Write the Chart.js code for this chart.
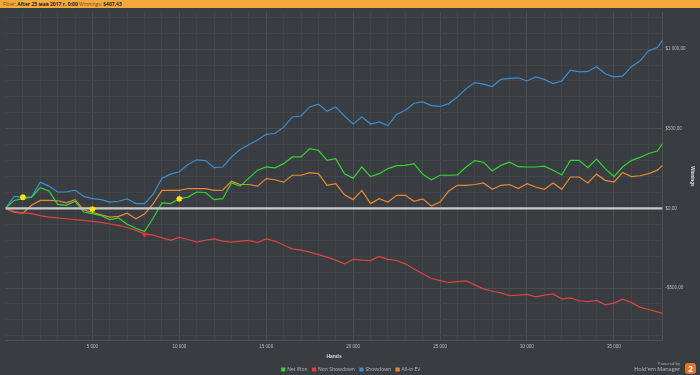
<!DOCTYPE html>
<html>
<head>
<meta charset="utf-8">
<script src="https://cdn.jsdelivr.net/npm/chart.js@4.4.1/dist/chart.umd.min.js"></script>
<style>
  html, body { margin: 0; padding: 0; background: #393c40; }
  #wrap { position: relative; width: 700px; height: 375px; overflow: hidden; font-family: "Open Sans", sans-serif; }
  #filter { position: absolute; left: 0; top: 0; width: 700px; height: 8px; background: #f4a93e; font-size: 5px; line-height: 8px; color: #6b4a1a; padding-left: 3px; box-sizing: border-box; z-index: 2; }
  #filter b { color: #1e1e1e; }
  #brand { position: absolute; right: 20px; top: 361px; text-align: right; color: #b8bcc2; z-index: 2; }
  #brand .small { font-size: 4px; line-height: 5px; }
  #brand .big { font-size: 5.5px; line-height: 7px; }
  #logo { position: absolute; right: 4px; top: 363px; width: 11px; height: 11px; border-radius: 3px; background: #e8742a; color: #fff; font-size: 8px; font-weight: bold; line-height: 11px; text-align: center; z-index: 2; }
  canvas { position: absolute; left: 0; top: 0; }
</style>
</head>
<body>
<div id="wrap">
  <div id="filter">Filter: <b>After 25 мая 2017 г. 0:00</b> Winnings: <b>$407,43</b></div>
  <canvas id="graph" width="700" height="382"></canvas>
  <div id="brand"><div class="small">Powered by</div><div class="big">Hold'em Manager</div></div>
  <div id="logo">2</div>
</div>
<script>
// раздачи (ось X)
const hands = [0, 500, 1000, 1500, 2000, 2500, 3000, 3500, 4000, 4500, 5000, 5500, 6000, 6500, 7000, 7500,
  8000, 8500, 9000, 9500, 10000, 10500, 11000, 11500, 12000, 12500, 13000, 13500, 14000, 14500, 15000, 15500,
  16000, 16500, 17000, 17500, 18000, 18500, 19000, 19500, 20000, 20500, 21000, 21500, 22000, 22500, 23000, 23500,
  24000, 24500, 25000, 25500, 26000, 26500, 27000, 27500, 28000, 28500, 29000, 29500, 30000, 30500, 31000, 31500,
  32000, 32500, 33000, 33500, 34000, 34500, 35000, 35500, 36000, 36500, 37000, 37500, 37800];

const netWon = [0, 50, 61, 70, 130, 110, 25, 19, 45, -23, -33, -45, -70, -60, -100, -125,
  -145, -60, 35, 30, 60, 71, 103, 100, 55, 61, 160, 140, 190, 240, 260, 255,
  281, 323, 323, 375, 365, 302, 312, 218, 190, 260, 200, 218, 250, 268, 270, 281,
  215, 180, 208, 208, 210, 260, 300, 290, 235, 270, 290, 262, 260, 260, 265, 240,
  210, 302, 302, 255, 310, 250, 200, 260, 300, 320, 345, 360, 407];

const nonShowdown = [0, -20, -28, -33, -45, -55, -60, -65, -70, -75, -82, -88, -98, -107, -120, -138,
  -160, -168, -185, -201, -182, -195, -212, -200, -192, -205, -212, -205, -201, -215, -192, -205,
  -230, -254, -262, -275, -290, -306, -325, -348, -320, -325, -328, -302, -320, -327, -348, -380,
  -410, -440, -453, -465, -460, -455, -480, -505, -520, -530, -547, -545, -540, -555, -545, -537,
  -568, -562, -580, -585, -578, -605, -595, -570, -590, -620, -635, -650, -659];

const showdown = [0, 75, 71, 71, 165, 140, 103, 103, 115, 75, 61, 55, 40, 45, 60, 30,
  30, 90, 190, 215, 230, 275, 305, 300, 256, 260, 323, 370, 400, 430, 465, 470,
  510, 574, 580, 637, 655, 610, 637, 580, 530, 575, 530, 543, 520, 590, 616, 660,
  669, 645, 640, 658, 700, 752, 790, 780, 765, 810, 816, 820, 800, 825, 810, 784,
  800, 868, 857, 860, 889, 845, 826, 830, 890, 925, 990, 1010, 1057];

const allInEV = [0, -23, -30, 20, 50, 50, 48, 35, 55, -10, -25, -40, -55, -50, -30, -65,
  -35, 30, 113, 113, 113, 125, 124, 124, 113, 115, 170, 150, 150, 140, 187, 180,
  165, 208, 208, 225, 218, 145, 155, 85, 55, 113, 30, 61, 40, 82, 82, 45,
  60, 15, 40, 110, 145, 145, 150, 160, 120, 145, 150, 124, 155, 134, 120, 160,
  120, 197, 197, 160, 215, 176, 165, 225, 200, 205, 218, 240, 270];

// отметки на графике
const starHands = [1000, 5000, 10000];
const starValues = [70, -5, 60];
const lowHands = [8000];
const lowValues = [-165];

// деления осей (сетка каждые 1000 раздач / $100, подписи каждые 5000 / $500)
const xTicks = [];
for (let h = 1000; h <= 37000; h += 1000) xTicks.push(h);
const yTicks = [];
for (let v = -800; v <= 1200; v += 100) yTicks.push(v);

const seriesNames = ['Net Won', 'Non Showdown', 'Showdown', 'All-in EV'];
const seriesColors = ['#33d633', '#dc4440', '#3b8fd4', '#ea8a2f'];
const seriesValues = [netWon, nonShowdown, showdown, allInEV];

const pts = (xs, ys) => xs.map((h, i) => ({ x: h, y: ys[i] }));

const datasets = [];
// линия нуля поверх серий
datasets.push({
  label: 'zero', data: pts([0, 37800], [0, 0]), borderColor: '#c9c9c9', borderWidth: 2.2,
  pointRadius: 0, order: 0
});
datasets.push({
  label: 'stars', type: 'scatter', data: pts(starHands, starValues), pointStyle: 'star',
  pointRadius: 3, borderColor: '#ffe600', backgroundColor: '#ffe600', borderWidth: 1.5, order: -1
});
datasets.push({
  label: 'low', type: 'scatter', data: pts(lowHands, lowValues), pointStyle: 'triangle', rotation: 180,
  pointRadius: 2.5, borderColor: '#ff2a2a', backgroundColor: '#ff2a2a', order: -1
});
seriesNames.forEach((name, i) => {
  datasets.push({
    label: name, data: pts(hands, seriesValues[i]), borderColor: seriesColors[i],
    backgroundColor: seriesColors[i], borderWidth: 1.2, pointRadius: 0, tension: 0, order: 1
  });
});

const spaced = n => n.toString().replace(/\B(?=(\d{3})+(?!\d))/g, ' ');
const fmtMoney = v => (v < 0 ? '-' : '') + '$' + spaced(Math.abs(v)) + ',00';

new Chart(document.getElementById('graph'), {
  type: 'line',
  data: { datasets: datasets },
  options: {
    responsive: false,
    animation: false,
    layout: { padding: { top: 12, left: 5, right: 3, bottom: 0 } },
    plugins: {
      tooltip: { enabled: false },
      legend: {
        position: 'bottom',
        labels: {
          filter: item => seriesNames.includes(item.text),
          color: '#b8bcc2', boxWidth: 3, boxHeight: 3, padding: 5,
          font: { family: "'Open Sans', sans-serif", size: 5 }
        }
      }
    },
    scales: {
      x: {
        type: 'linear', min: 0, max: 37800,
        afterBuildTicks: axis => { axis.ticks = xTicks.map(v => ({ value: v })); },
        ticks: {
          autoSkip: false, maxRotation: 0,
          color: '#b8bcc2', font: { size: 4.5 }, padding: 3,
          callback: v => (v % 5000 === 0) ? spaced(v) : ''
        },
        grid: {
          color: c => (c.tick && c.tick.value % 5000 === 0) ? '#4a4e53' : '#414448',
          lineWidth: 1, drawTicks: false
        },
        border: { color: '#4d5156' },
        title: { display: true, text: 'Hands', color: '#d8dadd', font: { size: 5, weight: 'bold' }, padding: { top: 2, bottom: 2 } }
      },
      y: {
        position: 'right', min: -830, max: 1233,
        afterBuildTicks: axis => { axis.ticks = yTicks.map(v => ({ value: v })); },
        ticks: {
          autoSkip: false,
          color: '#b8bcc2', font: { size: 4.5 }, padding: 3,
          callback: v => (v % 500 === 0) ? fmtMoney(v) : ''
        },
        grid: {
          color: c => (c.tick && c.tick.value % 500 === 0) ? '#4a4e53' : '#414448',
          lineWidth: 1, drawTicks: false
        },
        border: { color: '#4d5156' },
        title: { display: true, text: 'Winnings', color: '#d8dadd', font: { size: 4.5, weight: 'bold' }, padding: { top: 2, bottom: 1 } }
      }
    }
  }
});
</script>
</body>
</html>
